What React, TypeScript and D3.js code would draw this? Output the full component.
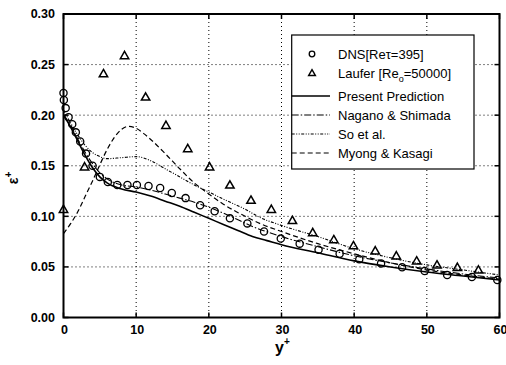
import React from "react";
import * as d3 from "d3";

const xTicks = [0, 10, 20, 30, 40, 50, 60];
const yTicks = [0.0, 0.05, 0.1, 0.15, 0.2, 0.25, 0.3];

const dnsX = [0, 0.05, 0.3, 0.7, 1.2, 1.7, 2.3, 3.1, 4.0, 5.0, 6.1, 7.4, 8.8, 10.1, 11.7, 13.3, 14.9, 16.8, 18.8, 20.8, 22.9, 25.3, 27.6, 29.9, 32.5, 35.1, 38.0, 40.7, 43.7, 46.6, 49.7, 52.8, 56.2, 59.7];
const dnsY = [0.222, 0.215, 0.207, 0.198, 0.191, 0.183, 0.174, 0.162, 0.15, 0.139, 0.134, 0.131, 0.131, 0.131, 0.13, 0.128, 0.123, 0.118, 0.111, 0.105, 0.098, 0.093, 0.085, 0.078, 0.073, 0.067, 0.063, 0.0575, 0.0535, 0.0496, 0.046, 0.042, 0.04, 0.037];

const lauferX = [0, 2.9, 5.5, 8.4, 11.3, 14.1, 17.1, 20.1, 22.9, 25.8, 28.6, 31.5, 34.3, 37.2, 39.9, 42.9, 45.8, 48.6, 51.4, 54.2, 57.1];
const lauferY = [0.107, 0.149, 0.241, 0.259, 0.218, 0.19, 0.167, 0.149, 0.131, 0.116, 0.107, 0.096, 0.084, 0.077, 0.071, 0.066, 0.061, 0.056, 0.052, 0.0496, 0.047];

const presentX = [0, 1, 2, 3, 4, 5, 6, 8, 10, 12, 14, 16, 18, 20, 22, 24, 26, 28, 30, 35, 40, 45, 50, 55, 60];
const presentY = [0.2, 0.188, 0.174, 0.16, 0.148, 0.139, 0.133, 0.127, 0.124, 0.12, 0.115, 0.11, 0.104, 0.098, 0.092, 0.086, 0.08, 0.076, 0.072, 0.064, 0.056, 0.05, 0.045, 0.041, 0.037];

const naganoX = [0, 1, 2, 3, 4, 5, 6, 8, 10, 12, 14, 16, 18, 20, 23, 26, 30, 35, 40, 45, 50, 55, 60];
const naganoY = [0.2, 0.19, 0.176, 0.163, 0.152, 0.143, 0.137, 0.131, 0.129, 0.126, 0.122, 0.118, 0.114, 0.109, 0.1, 0.09, 0.08, 0.07, 0.061, 0.054, 0.048, 0.043, 0.039];

const soX = [0, 1, 2, 3, 4, 5, 6, 8, 10, 12, 14, 16, 18, 20, 22, 25, 27, 30, 35, 40, 45, 50, 55, 60];
const soY = [0.205, 0.192, 0.18, 0.17, 0.163, 0.159, 0.157, 0.158, 0.159, 0.155, 0.147, 0.139, 0.131, 0.124, 0.117, 0.107, 0.099, 0.091, 0.08, 0.068, 0.059, 0.052, 0.047, 0.042];

const myongX = [0, 1, 2, 3, 4, 5, 6, 7, 8, 9, 10, 11, 12, 14, 16, 18, 20, 22, 25, 27, 30, 35, 40, 45, 50, 55, 60];
const myongY = [0.083, 0.093, 0.105, 0.12, 0.135, 0.151, 0.166, 0.178, 0.186, 0.189, 0.187, 0.182, 0.176, 0.162, 0.147, 0.133, 0.122, 0.112, 0.1, 0.093, 0.085, 0.073, 0.063, 0.054, 0.047, 0.042, 0.038];

const FONT = "'Liberation Sans', Arial, sans-serif";

export default function App() {
  const W = 506, H = 365;
  const L = 63.5, R = 499.5, T = 14, B = 317.5;
  const x = d3.scaleLinear().domain([0, 60]).range([L, R]);
  const y = d3.scaleLinear().domain([0, 0.3]).range([B, T]);

  const mk = (xs: number[], ys: number[]) =>
    d3.line<number>().x((_, i) => x(xs[i])).y((_, i) => y(ys[i])).curve(d3.curveMonotoneX)(xs as any) || "";

  const lines = [
    { xs: presentX, ys: presentY, dash: "", w: 1.6, label: "Present Prediction" },
    { xs: naganoX, ys: naganoY, dash: "7,2,1.5,2", w: 1.1, label: "Nagano & Shimada" },
    { xs: soX, ys: soY, dash: "3,1.5,1,1.5,1,1.5", w: 1.1, label: "So et al." },
    { xs: myongX, ys: myongY, dash: "5,3", w: 1.2, label: "Myong & Kasagi" },
  ];

  const tri = (cx: number, cy: number, s = 4.2) =>
    `M${cx},${cy - s}L${cx + s},${cy + s * 0.75}L${cx - s},${cy + s * 0.75}Z`;

  const legX = 291.7, legY = 35, legW = 182.3, legH = 134;
  const rowY = [54, 73, 96, 115, 134, 153];

  return (
    <svg width={W} height={H} style={{ position: "absolute", left: 0, top: 0, background: "#fff" }} fontFamily={FONT}>
      <rect x={0} y={0} width={W} height={H} fill="#fff" />
      {/* grid */}
      {xTicks.slice(1, -1).map((t) => (
        <line key={"gx" + t} x1={x(t)} x2={x(t)} y1={T} y2={B} stroke="#000" strokeWidth={1} strokeDasharray="1,3" />
      ))}
      {yTicks.slice(1, -1).map((t) => (
        <line key={"gy" + t} x1={L} x2={R} y1={y(t)} y2={y(t)} stroke="#000" strokeWidth={1} strokeDasharray="1,3" />
      ))}
      {/* ticks */}
      {yTicks.map((t) => (
        <g key={"ty" + t}>
          <line x1={L} x2={L + 5} y1={y(t)} y2={y(t)} stroke="#000" strokeWidth={1.5} />
          <line x1={R} x2={R - 5} y1={y(t)} y2={y(t)} stroke="#000" strokeWidth={1.5} />
          <text x={55} y={y(t)} dy="0.35em" textAnchor="end" fontSize={12.5} fontWeight="bold">
            {t.toFixed(2)}
          </text>
        </g>
      ))}
      {xTicks.map((t) => (
        <g key={"tx" + t}>
          <line x1={x(t)} x2={x(t)} y1={B} y2={B - 5} stroke="#000" strokeWidth={1.5} />
          <line x1={x(t)} x2={x(t)} y1={T} y2={T + 5} stroke="#000" strokeWidth={1.5} />
          <text x={x(t) + 1} y={334} textAnchor="middle" fontSize={12.5} fontWeight="bold">
            {t}
          </text>
        </g>
      ))}
      {/* curves */}
      {lines.map((l) => (
        <path key={l.label} d={mk(l.xs, l.ys)} fill="none" stroke="#000" strokeWidth={l.w} strokeDasharray={l.dash || undefined} />
      ))}
      {/* DNS circles */}
      {dnsX.map((v, i) => (
        <circle key={"c" + i} cx={x(v)} cy={y(dnsY[i])} r={3.6} fill="none" stroke="#000" strokeWidth={1.3} />
      ))}
      {/* Laufer triangles */}
      {lauferX.map((v, i) => (
        <path key={"t" + i} d={tri(x(v), y(lauferY[i]))} fill="none" stroke="#000" strokeWidth={1.5} strokeLinejoin="miter" />
      ))}
      {/* frame */}
      <rect x={L} y={T} width={R - L} height={B - T} fill="none" stroke="#000" strokeWidth={2} />
      {/* legend */}
      <rect x={legX} y={legY} width={legW} height={legH} fill="#fff" stroke="#000" strokeWidth={1.2} />
      <circle cx={312} cy={rowY[0]} r={2.8} fill="none" stroke="#000" strokeWidth={1.3} />
      <path d={tri(312, rowY[1], 3.4)} fill="none" stroke="#000" strokeWidth={1.4} />
      {lines.map((l, i) => (
        <line key={"ll" + i} x1={legX} x2={330} y1={rowY[i + 2]} y2={rowY[i + 2]} stroke="#000" strokeWidth={l.w} strokeDasharray={l.dash || undefined} />
      ))}
      <text x={338} y={rowY[0]} dy="0.35em" fontSize={13}>DNS[Reτ=395]</text>
      <text x={338} y={rowY[1]} dy="0.35em" fontSize={13}>
        Laufer [Re<tspan fontSize={9} dy="4">o</tspan><tspan dy="-4">=50000]</tspan>
      </text>
      {lines.map((l, i) => (
        <text key={"lt" + i} x={338} y={rowY[i + 2]} dy="0.35em" fontSize={13}>{l.label}</text>
      ))}
      {/* axis titles */}
      <text x={275} y={353} fontSize={16} fontWeight="bold">
        y<tspan fontSize={10} dy="-8">+</tspan>
      </text>
      <text transform="translate(18,178) rotate(-90)" textAnchor="middle" fontSize={14} fontWeight="bold">
        ε<tspan fontSize={10} dy="-6">+</tspan>
      </text>
    </svg>
  );
}
